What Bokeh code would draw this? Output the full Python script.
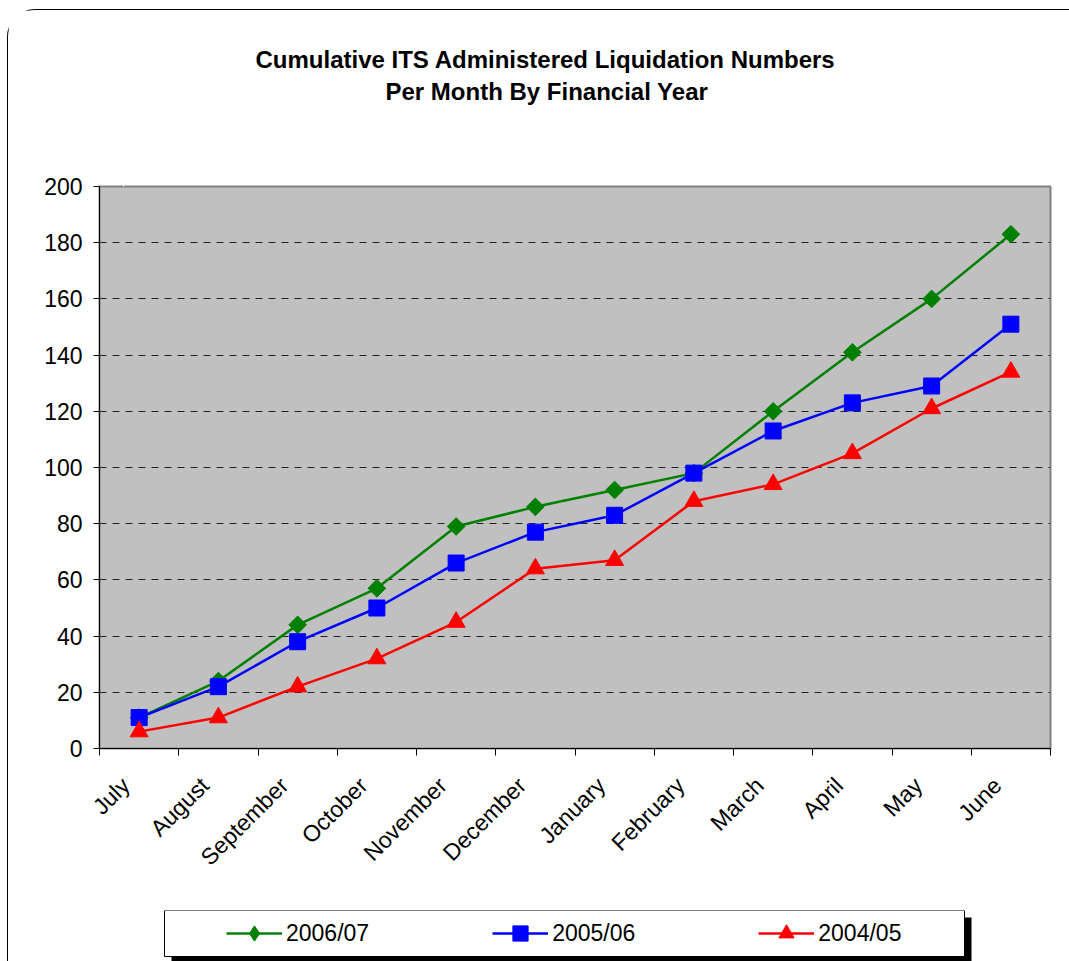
import math
from bokeh.plotting import figure
from bokeh.layouts import column
from bokeh.models import (FixedTicker, Legend, LegendItem, Range1d, Title, LinearAxis,
                          BoxAnnotation)
from bokeh.embed import file_html
from bokeh.resources import INLINE

months = ["July", "August", "September", "October", "November", "December",
          "January", "February", "March", "April", "May", "June"]
fy_2006_07 = [11, 24, 44, 57, 79, 86, 92, 98, 120, 141, 160, 183]
fy_2005_06 = [11, 22, 38, 50, 66, 77, 83, 98, 113, 123, 129, 151]
fy_2004_05 = [6, 11, 22, 32, 45, 64, 67, 88, 94, 105, 121, 134]
y_ticks = [0, 20, 40, 60, 80, 100, 120, 140, 160, 180, 200]
title_lines = ["Cumulative ITS Administered Liquidation Numbers",
               "Per Month By Financial Year"]
series_names = ["2006/07", "2005/06", "2004/05"]

FONT = "Liberation Sans"
xs = [i + 0.5 for i in range(len(months))]
label_pos = [x - 0.17 for x in xs]   # rotated labels end just left of the point

p = figure(width=1062, height=900, output_backend="svg", toolbar_location=None,
           x_range=Range1d(0, len(months)), y_range=Range1d(0, 200),
           min_border_left=91, min_border_top=176, min_border_right=20,
           min_border_bottom=162)
p.background_fill_color = "#C0C0C0"
p.border_fill_color = "white"
p.outline_line_color = "#808080"
p.outline_line_width = 2

# axes
p.xaxis.ticker = FixedTicker(ticks=label_pos, minor_ticks=list(range(len(months) + 1)))
p.xaxis.major_label_overrides = {x: m for x, m in zip(label_pos, months)}
p.xaxis.major_tick_line_color = None
p.xaxis.minor_tick_line_color = "black"
p.xaxis.minor_tick_out = 7
p.xaxis.minor_tick_in = 0
p.xaxis.major_label_orientation = math.pi / 4
p.xaxis.major_label_standoff = 26
p.yaxis.ticker = FixedTicker(ticks=y_ticks)
p.yaxis.minor_tick_line_color = None
p.yaxis.major_tick_out = 6
p.yaxis.major_tick_in = 0
p.yaxis.major_label_standoff = 11
for ax in (p.xaxis, p.yaxis):
    ax.axis_line_color = "black"
    ax.axis_line_width = 1
    ax.major_label_text_font = FONT
    ax.major_label_text_font_size = "23px"
    ax.major_label_text_color = "black"

p.xgrid.grid_line_color = None
p.ygrid.ticker = FixedTicker(ticks=y_ticks[1:-1])
p.ygrid.grid_line_color = "#222222"
p.ygrid.grid_line_dash = "7 6"
p.ygrid.grid_line_width = 1

colors = ["#008000", "#0000FF", "#FF0000"]
markers = [("square", 12.5, math.pi / 4), ("square", 16, 0), ("triangle", 18, 0)]
legend_markers = ["diamond", "square", "triangle"]
all_vals = [fy_2006_07, fy_2005_06, fy_2004_05]
for vals, col, (mk, sz, ang) in zip(all_vals, colors, markers):
    p.line(xs, vals, line_color=col, line_width=2.5)
    p.scatter(xs, vals, marker=mk, size=sz, angle=ang, fill_color=col, line_color=col)

# invisible spacer between frame and title lines (one white tick on white)
spacer = LinearAxis(ticker=FixedTicker(ticks=[0.3]), major_label_overrides={0.3: ""},
                    axis_line_color=None, major_tick_line_color="white",
                    minor_tick_line_color=None, major_tick_out=80, major_tick_in=0,
                    minor_tick_out=0, major_label_standoff=0,
                    major_label_text_font_size="1px")
p.add_layout(spacer, "above")
# titles (second line first: later titles stack further from the frame)
p.add_layout(Title(text=title_lines[1], align="left", offset=286, standoff=3,
                   text_font=FONT, text_font_size="24px", text_font_style="bold",
                   text_color="black"), "above")
p.add_layout(Title(text=title_lines[0], align="left", offset=156, standoff=3,
                   text_font=FONT, text_font_size="24px", text_font_style="bold",
                   text_color="black"), "above")

# legend strip: same frame columns as the chart, boxed legend with shadow
lf = figure(width=1062, height=52, output_backend="svg", toolbar_location=None,
            x_axis_location=None, y_axis_location=None,
            min_border_left=91, min_border_right=20, min_border_top=0,
            min_border_bottom=0,
            x_range=Range1d(100, 101), y_range=Range1d(1000, 1001))
lf.outline_line_color = None
lf.background_fill_color = "white"
lf.border_fill_color = "white"
lf.xgrid.visible = False
lf.ygrid.visible = False

box_kw = dict(left_units="screen", right_units="screen", top_units="screen",
              bottom_units="screen", level="annotation")
lf.add_layout(BoxAnnotation(left=72, right=872, top=45, bottom=-2,
                            fill_color="black", fill_alpha=1, line_color=None,
                            **box_kw))
lf.add_layout(BoxAnnotation(left=65, right=865, top=52, bottom=6,
                            fill_color="white", fill_alpha=1, line_color="black",
                            line_alpha=1, line_width=1, **box_kw))

items = []
for name, vals, col, lmk in zip(series_names, all_vals, colors, legend_markers):
    l = lf.line(xs, vals, line_color=col, line_width=2.5)
    s = lf.scatter(xs, vals, marker=lmk, size=15, fill_color=col, line_color=col)
    items.append(LegendItem(label=name, renderers=[l, s]))
legend = Legend(items=items, location=(127, 10), orientation="horizontal",
                glyph_width=56, glyph_height=38, label_standoff=4, spacing=123,
                padding=0, margin=0, border_line_color=None,
                background_fill_alpha=0, label_text_font=FONT,
                label_text_font_size="23px", label_text_color="black")
lf.add_layout(legend, "center")

root = column(p, lf, margin=(9, 0, 0, 7),
              styles={"border-top": "1.5px solid black",
                      "border-left": "1.5px solid black",
                      "border-top-left-radius": "28px"})

open("out.html", "w").write(file_html(root, INLINE))
